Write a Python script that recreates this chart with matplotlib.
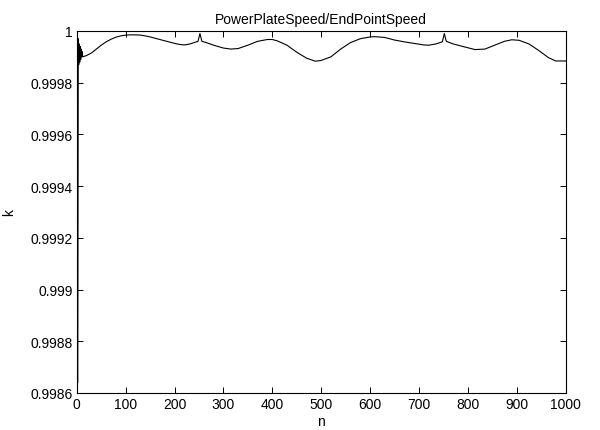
import numpy as np
import matplotlib
matplotlib.use("Agg")
import matplotlib.pyplot as plt

plt.rcParams['font.family'] = ['Liberation Sans', 'DejaVu Sans']

# readings of k against n (taken off the reference plot)
n = [0, 2, 3, 4, 5, 6, 7, 8, 9, 10, 11, 12,
     20, 30, 40, 50, 60, 70, 80, 90, 100, 110, 120, 130, 140, 150, 160, 170,
     180, 190, 200, 210, 220, 230, 240, 248, 252, 256, 265, 280, 300, 315,
     330, 350, 370, 390, 400, 410, 430, 450, 470, 488, 500, 520, 540, 560,
     580, 600, 610, 630, 650, 670, 690, 710, 720, 735, 748, 752, 756, 770,
     790, 815, 835, 855, 875, 890, 905, 925, 945, 965, 980, 1000]
k = [0.99999, 0.99864, 0.99997, 0.99987, 0.99995, 0.99988, 0.99994, 0.99989,
     0.99993, 0.99990, 0.99992, 0.999900,
     0.999905, 0.999915, 0.99993, 0.999945, 0.999958, 0.999968, 0.999976,
     0.999981, 0.999984, 0.999985, 0.999985, 0.999984, 0.999981, 0.999977,
     0.999972, 0.999967, 0.999962, 0.999957, 0.999952, 0.999948, 0.999946,
     0.999949, 0.999955, 0.99996, 0.99999, 0.99996, 0.999955, 0.999945,
     0.999934, 0.99993, 0.999932, 0.999945, 0.99996, 0.999967, 0.999967,
     0.999962, 0.999945, 0.999918, 0.999895, 0.999883, 0.999886, 0.9999,
     0.99993, 0.999955, 0.99997, 0.999977, 0.999978, 0.999975, 0.999965,
     0.999958, 0.999952, 0.999946, 0.999945, 0.99995, 0.999958, 0.99999,
     0.99996, 0.99995, 0.99994, 0.999928, 0.99993, 0.999945, 0.99996,
     0.999966, 0.999964, 0.99995, 0.999925, 0.999897, 0.999884, 0.999884]

yticks = [0.9986, 0.9988, 0.999, 0.9992, 0.9994, 0.9996, 0.9998, 1.0]
ylabels = ['0.9986', '0.9988', '0.999', '0.9992', '0.9994', '0.9996', '0.9998', '1']
xticks = [0, 100, 200, 300, 400, 500, 600, 700, 800, 900, 1000]

fig = plt.figure(figsize=(6, 4.31), dpi=100)
ax = fig.add_axes([0.128, 0.086, 0.8145, 0.8398])
ax.plot(n, k, color='black', lw=0.8)

ax.set_xlim(0, 1000)
ax.set_ylim(0.9986, 1.0)
ax.set_xticks(xticks)
ax.set_xticklabels([str(t) for t in xticks])
ax.set_yticks(yticks)
ax.set_yticklabels(ylabels)
ax.tick_params(direction='in', top=True, right=True, labelsize=10, length=4, width=0.7, pad=3)
for s in ax.spines.values():
    s.set_linewidth(0.8)

ax.set_title('PowerPlateSpeed/EndPointSpeed', fontsize=10, pad=6)
ax.set_xlabel('n', fontsize=10, labelpad=2)
ax.set_ylabel('k', fontsize=10, labelpad=10)

fig.savefig('out.png', dpi=100)
